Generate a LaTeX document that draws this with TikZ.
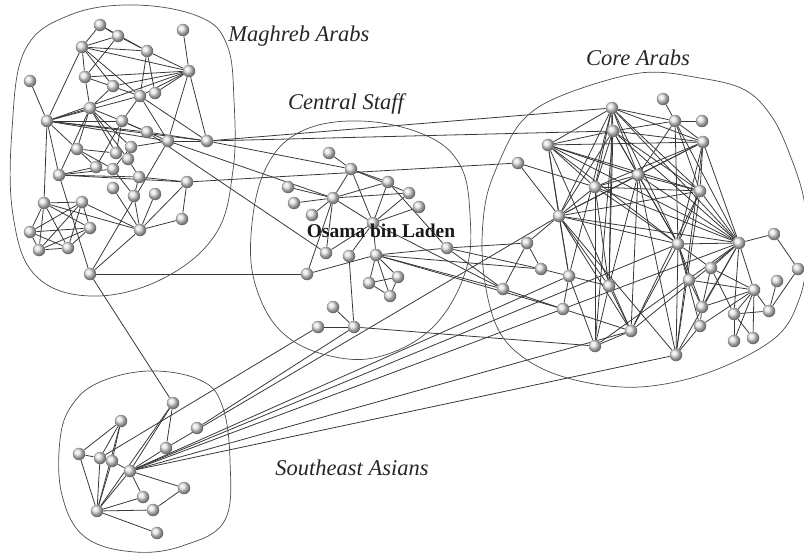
\documentclass[tikz,border=0pt]{standalone}
\usepackage{fontspec}
\setmainfont{Liberation Serif}
\usetikzlibrary{backgrounds}
\begin{document}
\begin{tikzpicture}[x=1pt,y=-1pt,
  ball/.style={circle,inner sep=0pt,minimum size=12.5pt,shading=ball,ball color=gray!22},
  link/.style={draw=black!78,line width=0.8pt},
  hull/.style={draw=black!70,line width=0.7pt},
  grp/.style={font=\itshape\fontsize{22.5}{26}\selectfont,text=black!85},
  boss/.style={font=\bfseries\fontsize{19.5}{23}\selectfont,text=black!90}]
\useasboundingbox (0,0) rectangle (804,554);

% group outlines
\draw[hull] plot[smooth cycle,tension=0.65] coordinates {(135,5) (200,17) (227,45) (234,100) (233,170) (215,235) (160,280) (90,296) (35,275) (13,215) (12,130) (25,50) (70,15)};
\draw[hull] plot[smooth cycle,tension=0.65] coordinates {(360,121) (425,135) (460,165) (470,215) (466,270) (435,325) (385,355) (335,357) (285,335) (257,290) (251,235) (265,170) (300,132)};
\draw[hull] plot[smooth cycle,tension=0.6] coordinates {(640,73) (700,78) (745,90) (772,117) (790,155) (804,200) (807,250) (800,297) (775,338) (710,372) (640,387) (575,380) (527,360) (497,327) (483,267) (485,205) (500,160) (523,120) (563,95)};
\draw[hull] plot[smooth cycle,tension=0.65] coordinates {(150,371) (200,380) (222,405) (230,460) (225,520) (185,545) (135,552) (85,537) (62,495) (60,440) (72,405) (100,382)};

% Maghreb Arabs
\foreach \n/\x/\y in {m1/100/25,m2/118/36,m3/82/47,m4/147/51,m5/183/30,m6/189/71,m7/30/81,m8/85/77,
  m9/113/86,m10/140/96,m11/155/93,m12/90/108,m13/47/121,m14/122/121,m15/147/132,m16/168/141,
  m17/207/141,m18/77/149,m19/131/147,m20/116/153,m21/128/159,m22/59/175,m23/96/167,m24/113/169,
  m25/139/177,m26/187/182,m27/113/188,m28/134/196,m29/155/194,m30/182/219,m31/140/230,
  m32/44/203,m33/82/202,m34/30/232,m35/90/228,m36/39/250,m37/68/248,m38/90/274}
  \node[ball] (\n) at (\x,\y) {};

% Central Staff
\foreach \n/\x/\y in {c1/329/153,c2/351/169,c3/388/182,c4/288/187,c5/333/198,c6/294/203,c7/312/215,
  c8/409/193,c9/419/207,c10/373/223,c11/326/253,c12/349/256,c13/376/255,c14/307/274,c15/447/248,
  c16/369/283,c17/398/277,c18/390/296,c19/333/307,c20/318/327,c21/354/327}
  \node[ball] (\n) at (\x,\y) {};

% Core Arabs
\foreach \n/\x/\y in {k1/663/99,k2/612/108,k3/675/121,k4/702/121,k5/613/131,k6/548/145,k7/703/142,
  k8/518/163,k9/638/175,k10/595/187,k11/700/191,k12/559/216,k13/678/244,k14/739/243,k15/774/234,
  k16/527/243,k17/541/269,k18/569/276,k19/503/289,k20/609/286,k21/798/269,k22/711/268,k23/689/280,
  k24/777/281,k25/754/290,k26/702/307,k27/563/309,k28/769/311,k29/734/314,k30/700/326,k31/631/331,
  k32/753/338,k33/734/341,k34/595/346,k35/676/355}
  \node[ball] (\n) at (\x,\y) {};

% Southeast Asians
\foreach \n/\x/\y in {s1/173/403,s2/121/421,s3/197/428,s4/166/448,s5/79/454,s6/100/458,s7/112/461,
  s8/130/471,s9/184/488,s10/143/497,s11/153/510,s12/97/511,s13/157/533}
  \node[ball] (\n) at (\x,\y) {};

\node[grp] (tmag) at (299,36) {Maghreb Arabs};
\node[grp] (tcen) at (346,104) {Central Staff};
\node[grp] (tcor) at (638,58) {Core Arabs};
\node[grp] (tsea) at (352,468) {Southeast Asians};
\node[boss] (tobl) at (381,231) {Osama bin Laden};

\begin{pgfonlayer}{background}
% ties inside the Maghreb group
\foreach \a/\b in {m1/m2,m1/m3,m2/m3,m2/m4,m3/m4,m3/m6,m2/m8,m3/m8,m3/m9,m3/m13,m4/m6,m4/m10,m4/m11,
  m5/m6,m6/m8,m6/m9,m6/m10,m6/m11,m6/m13,m6/m16,m6/m17,m7/m13,m12/m13,m10/m13,m13/m14,m13/m15,
  m13/m16,m13/m17,m13/m18,m13/m22,m13/m32,m12/m18,m12/m19,m12/m20,m12/m21,m12/m14,m10/m14,m10/m16,
  m10/m17,m14/m15,m14/m16,m14/m20,m14/m23,m15/m17,m16/m17,m18/m20,m18/m24,m18/m23,m19/m21,m19/m24,
  m19/m16,m21/m25,m22/m23,m22/m24,m22/m25,m22/m26,m22/m38,m22/m12,m24/m28,m25/m28,m25/m26,m26/m30,
  m26/m31,m27/m31,m28/m31,m29/m31,m30/m31,m31/m38,m16/m38,m32/m31,m33/m31,m32/m33,m32/m34,m32/m35,
  m32/m36,m32/m37,m33/m34,m33/m35,m33/m36,m33/m37,m34/m35,m34/m36,m34/m37,m35/m36,m35/m37,m36/m37,
  m8/m12,m9/m12,m8/m10,m1/m4,m3/m10}
  \draw[link] (\a) -- (\b);
% ties inside the Central Staff
\foreach \a/\b in {c1/c2,c2/c3,c2/c5,c2/c10,c2/c8,c3/c10,c3/c5,c3/c15,c4/c5,c5/c6,c5/c7,c5/c8,c5/c10,
  c5/c11,c8/c10,c9/c10,c10/c12,c10/c13,c10/c11,c13/c16,c13/c17,c13/c18,c16/c17,c16/c18,c17/c18,
  c13/c15,c14/c5,c14/c13,c12/c21,c19/c21,c20/c21}
  \draw[link] (\a) -- (\b);
% ties inside the Core Arabs
\foreach \a/\b in {k2/k5,k2/k6,k2/k9,k2/k10,k2/k12,k2/k13,k2/k14,k2/k7,k2/k11,k2/k3,
  k5/k6,k5/k9,k5/k10,k5/k12,k5/k13,k5/k14,k5/k7,k5/k11,k5/k3,
  k6/k9,k6/k10,k6/k12,k6/k13,k6/k14,k6/k7,k6/k11,
  k9/k10,k9/k12,k9/k13,k9/k14,k9/k7,k9/k11,k9/k3,
  k10/k12,k10/k13,k10/k14,k10/k7,k10/k11,
  k12/k13,k12/k14,k12/k11,k12/k7,
  k13/k14,k13/k7,k13/k11,k13/k3,k14/k7,k14/k11,k14/k3,k7/k11,k7/k3,k11/k3,
  k1/k3,k3/k4,k8/k12,k8/k10,k12/k18,k12/k20,k12/k31,k12/k35,k16/k17,k16/k19,k16/k12,k17/k18,
  k18/k27,k18/k34,k18/k20,k20/k31,k20/k34,k27/k31,k31/k34,k19/k27,k10/k20,k10/k34,k9/k20,
  k9/k31,k2/k18,k2/k20,k5/k20,k5/k34,k6/k18,k13/k31,k13/k35,k14/k31,k14/k35,k14/k34,k11/k31,
  k11/k35,k9/k35,k7/k35,k6/k31,
  k13/k22,k13/k23,k13/k26,k13/k30,k14/k22,k14/k25,k14/k26,k14/k29,k14/k15,k15/k21,k21/k28,
  k24/k28,k25/k23,k25/k26,k25/k28,k25/k29,k25/k32,k25/k33,k25/k30,k25/k22,k22/k26,k22/k29,
  k26/k30,k29/k32,k29/k33,k29/k28,k30/k35,k23/k26}
  \draw[link] (\a) -- (\b);
% ties inside the Southeast Asians
\foreach \a/\b in {s1/s4,s1/s8,s1/s12,s2/s5,s2/s6,s2/s7,s2/s12,s5/s6,s5/s12,s6/s12,s7/s12,s7/s8,
  s8/s12,s8/s9,s8/s10,s12/s10,s12/s11,s12/s13,s11/s9,s4/s8}
  \draw[link] (\a) -- (\b);
% ties between groups
\foreach \a/\b in {m17/c2,m17/k2,m17/k5,m26/k8,m16/c5,m15/c11,m38/c14,m38/s1,
  c15/k16,c15/k17,c15/k19,c10/k19,c13/k17,c13/k27,c13/k19,c21/k34,
  s6/c20,s3/c21,s8/k13,s8/k14,s8/k18,s8/k31,s8/k35,s4/k12}
  \draw[link] (\a) -- (\b);
\end{pgfonlayer}
\end{tikzpicture}
\end{document}
